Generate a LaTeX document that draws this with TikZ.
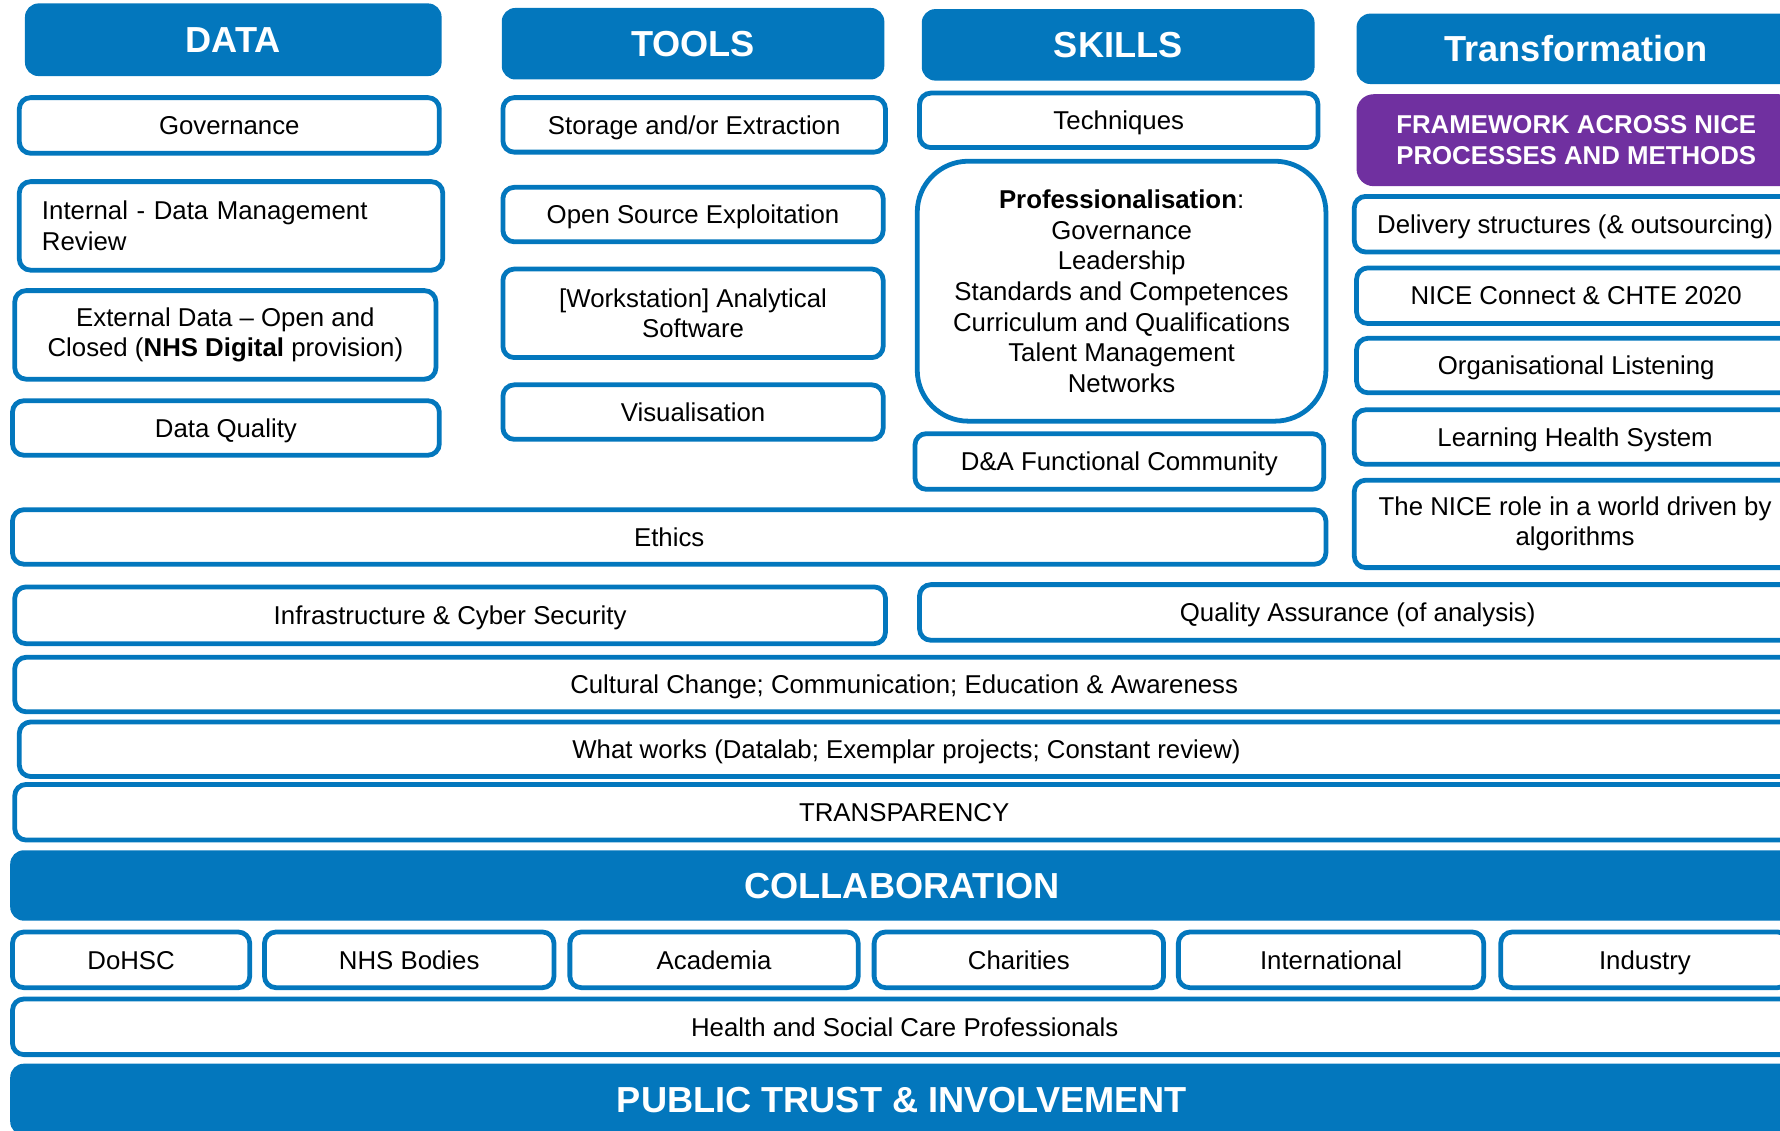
\documentclass[tikz,border=0pt]{standalone}
\usepackage{fontspec}
\setmainfont{Liberation Sans}
\definecolor{niceblue}{HTML}{0377BD}
\definecolor{nicepurple}{HTML}{7030A0}

\begin{document}
\begin{tikzpicture}[x=0.03cm, y=-0.03cm,
        wh/.style 2 args={minimum width=#1*0.03cm, minimum height=#2*0.03cm},
        cell/.style={draw=niceblue, line width=3.6pt, fill=white, rounded corners=0.3cm, inner sep=0pt,
        align=center, font=\fontsize{19.4}{23}\selectfont},
        one/.style={text height=13.9pt, text depth=0pt},
        head/.style={fill=niceblue, rounded corners=0.36cm, inner sep=0pt, align=center, text=white,
        text height=19.5pt, text depth=0pt, font=\fontsize{27.2}{31}\selectfont\bfseries}]
        \useasboundingbox (0,0) rectangle (1568,996);
        \clip (0,0) rectangle (1568,996);
        % column heads
        \node[head, wh={367}{64}] (data) at (205.5,35) {DATA};
        \node[head, wh={337}{63}] (tools) at (610.5,38.5) {TOOLS};
        \node[head, wh={346}{63}] (skills) at (985,39.5) {SKILLS};
        \node[head, wh={387}{62}] (transf) at (1388.5,43) {Transformation};
        % data
        \node[cell, one, wh={370}{49}] (dgov) at (202,110.5) {Governance};
        \node[cell, wh={373}{78}, text width=9.99cm, align=left] (dint) at (203.5,199) {Internal - Data Management\\Review};
        \node[cell, wh={371}{78}] (dext) at (198.5,295) {External Data -- Open and\\Closed (\textbf{NHS Digital} provision)};
        \node[cell, one, wh={376}{48}] (dqual) at (199,377) {Data Quality};
        % tools
        \node[cell, one, wh={337}{48}] (tstore) at (611.5,110) {Storage and/or Extraction};
        \node[cell, one, wh={335}{48}] (topen) at (610.5,189) {Open Source Exploitation};
        \node[cell, wh={335}{78}] (twork) at (610.5,276) {[Workstation] Analytical\\Software};
        \node[cell, one, wh={335}{48}] (tvis) at (610.5,363) {Visualisation};
        % skills
        \node[cell, one, wh={351}{48}] (stech) at (985.5,106) {Techniques};
        \node[cell, wh={360}{229}, rounded corners=1.35cm] (sprof) at (988,256.5)
        {\textbf{Professionalisation}:\\Governance\\Leadership\\Standards and Competences\\Curriculum and Qualifications\\Talent Management\\Networks};
        \node[cell, one, wh={360}{49}] (sda) at (986,406.5) {D\&A Functional Community};
        % transformation
        \node[head, fill=nicepurple, wh={387}{81}, rounded corners=0.45cm, text height=, text depth=,
        font=\fontsize{19.4}{23}\selectfont\bfseries] (xframe) at (1388.5,123.5) {FRAMEWORK ACROSS NICE\\PROCESSES AND METHODS};
        \node[cell, one, wh={389}{49}] (xdeliv) at (1387.5,197.5) {Delivery structures (\& outsourcing)};
        \node[cell, one, wh={387}{49}] (xconn) at (1388.5,260.5) {NICE Connect \& CHTE 2020};
        \node[cell, one, wh={387}{48}] (xlisten) at (1388.5,322) {Organisational Listening};
        \node[cell, one, wh={389}{48}] (xlearn) at (1387.5,385) {Learning Health System};
        \node[cell, wh={389}{77}] (xrole) at (1387.5,461.5) {The NICE role in a world driven by\\algorithms};
        % full width layers
        \node[cell, one, wh={1157}{48}] (ethics) at (589.5,473) {Ethics};
        \node[cell, one, wh={767}{50}] (infra) at (396.5,542) {Infrastructure \& Cyber Security};
        \node[cell, one, wh={772}{49}] (qa) at (1196,539.5) {Quality Assurance (of analysis)};
        \node[cell, one, wh={1567}{48}] (culture) at (796.5,603) {Cultural Change; Communication; Education \& Awareness};
        \node[cell, one, wh={1563}{48}] (works) at (798.5,660) {What works (Datalab; Exemplar projects; Constant review)};
        \node[cell, one, wh={1567}{49}] (transp) at (796.5,715.5) {TRANSPARENCY};
        \node[head, wh={1571}{62}] (collab) at (794.5,780) {COLLABORATION};
        % partners
        \node[cell, one, wh={209}{49}] (dohsc) at (115.5,845.5) {DoHSC};
        \node[cell, one, wh={255}{49}] (nhs) at (360.5,845.5) {NHS Bodies};
        \node[cell, one, wh={254}{49}] (acad) at (629,845.5) {Academia};
        \node[cell, one, wh={255}{49}] (char) at (897.5,845.5) {Charities};
        \node[cell, one, wh={269}{49}] (intl) at (1172.5,845.5) {International};
        \node[cell, one, wh={254}{49}] (ind) at (1449,845.5) {Industry};
        \node[cell, one, wh={1572}{49}] (hscp) at (797,904.5) {Health and Social Care Professionals};
        \node[head, wh={1571}{63}] (public) at (794.5,968.5) {PUBLIC TRUST \& INVOLVEMENT};
    \end{tikzpicture}
\end{document}
